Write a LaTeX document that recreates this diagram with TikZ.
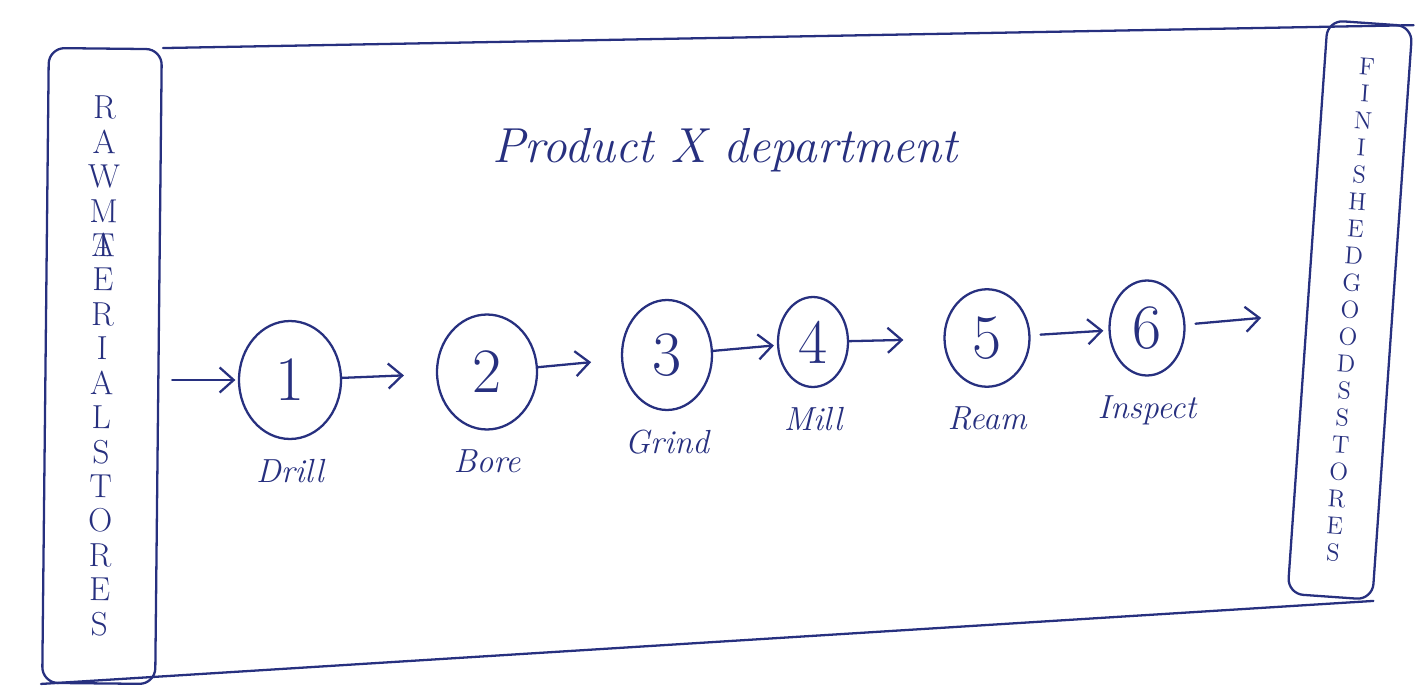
\documentclass[tikz,border=0pt]{standalone}
\usepackage{fontspec}
\usepackage{tikz}
\usetikzlibrary{arrows.meta,positioning,shapes.geometric}
\definecolor{ink}{HTML}{27307F}
\tikzset{
  >={Straight Barb[length=2.8mm,width=5mm]},
  pen/.style={draw=ink,line width=1.3pt,line cap=round,line join=round},
  op/.style={ellipse,pen,inner sep=0pt,font=\fontsize{36}{36}\selectfont\color{ink}},
  lab/.style={font=\fontsize{19}{19}\selectfont\itshape\color{ink}},
  store/.style={pen,rounded corners=9pt,inner sep=0pt,align=center},
  flow/.style={->,pen},
}

\begin{document}
\begin{tikzpicture}[x=0.02cm,y=-0.02cm,node distance=2.5mm]
\useasboundingbox (0,0) rectangle (1424,686);

% stores at either end
\node[store,minimum width=2.26cm,minimum height=12.7cm,rotate=-0.6,
  font=\fontsize{19}{19.6}\selectfont\color{ink}] (rstore) at (102,366)
  {R\\A\\W\\M\\\makebox[0pt]{A}\makebox[0pt]{T}\\E\\R\\I\\A\\L\\S\\T\\O\\R\\E\\S};
\node[store,minimum width=1.7cm,minimum height=11.5cm,rotate=-4,
  font=\fontsize{14}{15.4}\selectfont\color{ink}] (fstore) at (1350,310)
  {F\\I\\N\\I\\S\\H\\E\\D\\G\\O\\O\\D\\S\\S\\T\\O\\R\\E\\S};

% department outline
\draw[pen] (rstore.north east) -- (fstore.north east);
\draw[pen] (rstore.south west) -- (fstore.south east);

\node[font=\fontsize{28}{28}\selectfont\itshape\color{ink}] (dept) at (725,150) {Product X department};

% operations
\node[op,minimum width=2.04cm,minimum height=2.36cm] (s1) at (290,380) {1};
\node[op,minimum width=2.0cm,minimum height=2.3cm] (s2) at (487,372) {2};
\node[op,minimum width=1.8cm,minimum height=2.2cm] (s3) at (667,355) {3};
\node[op,minimum width=1.4cm,minimum height=1.8cm] (s4) at (813,342) {4};
\node[op,minimum width=1.7cm,minimum height=1.95cm] (s5) at (987,338) {5};
\node[op,minimum width=1.5cm,minimum height=1.9cm] (s6) at (1147,328) {6};

\node[lab,below=of s1] (l1) {Drill};
\node[lab,below=of s2] (l2) {Bore};
\node[lab,below=of s3] (l3) {Grind};
\node[lab,below=of s4] (l4) {Mill};
\node[lab,below=of s5] (l5) {Ream};
\node[lab,below=of s6] (l6) {Inspect};

\draw[flow,shorten <=0.25cm,shorten >=0.05cm] (rstore.east |- s1.west) -- (s1.west);
\draw[flow,shorten >=0.64cm] (s1) -- (s2);
\draw[flow,shorten >=0.6cm] (s2) -- (s3);
\draw[flow,shorten >=0.06cm] (s3) -- (s4);
\draw[flow,shorten >=0.8cm] (s4) -- (s5);
\draw[flow,shorten <=0.2cm,shorten >=0.1cm] (s5) -- (s6);
\draw[flow,shorten <=0.2cm,shorten >=0.9cm] (s6) -- (fstore);
\end{tikzpicture}
\end{document}
